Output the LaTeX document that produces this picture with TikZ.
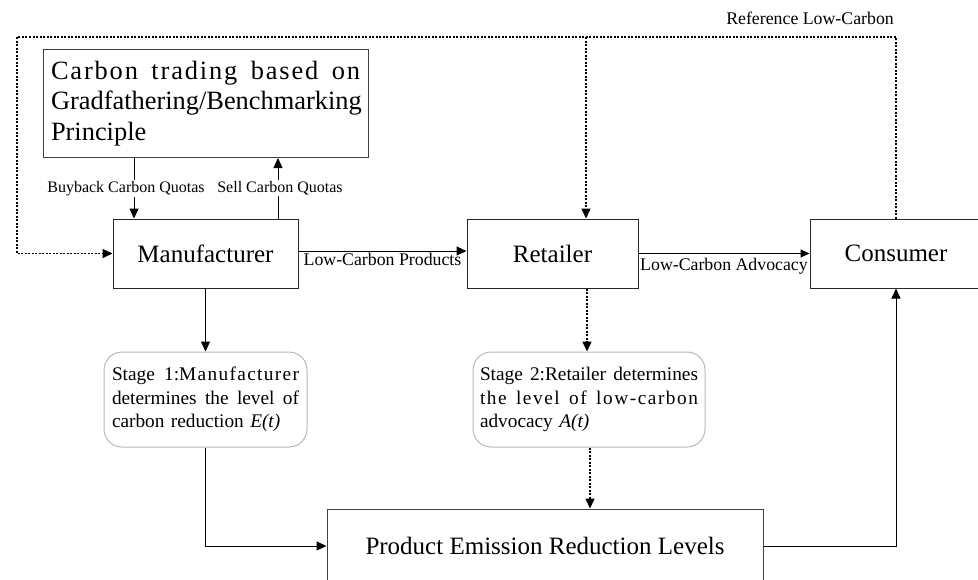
\documentclass[tikz,border=0pt]{standalone}
\usepackage{fontspec}
\setmainfont{Liberation Serif}
\newfontfamily\spaced[LetterSpace=7]{Liberation Serif}
\newfontfamily\spacedb[LetterSpace=8]{Liberation Serif}
\usetikzlibrary{arrows.meta}
\tikzset{
  bx/.style={draw=black!85, line width=1pt, minimum height=69pt, inner sep=0pt, font=\fontsize{25}{30}\selectfont},
  stg/.style={draw=black!28, line width=1pt, rounded corners=18pt, minimum height=95pt, inner sep=0pt, align=left, font=\fontsize{19.3}{23.5}\selectfont},
  tip/.style={-{Triangle[length=10pt,width=9pt]}},
  arr/.style={line width=1pt, tip},
  dotln/.style={line width=1.5pt, dash pattern=on 2pt off 1.5pt},
  lbl/.style={font=\fontsize{17.8}{20}\selectfont, inner sep=1pt},
  slbl/.style={font=\fontsize{16}{18}\selectfont, inner sep=1pt, fill=white},
}
\begin{document}
\begin{tikzpicture}[x=1pt,y=-1pt]
\useasboundingbox (0,0) rectangle (978,579);
\clip (0,0) rectangle (978,579);
% nodes
\node[bx, draw=black!75, minimum width=325pt, minimum height=108pt, text width=309pt, align=left, font=\fontsize{26.4}{30.5}\selectfont] (cap) at (205.5,103.5)
  {\makebox[309pt]{\spaced Carbon\hfill trading\hfill based\hfill on}\\Gradfathering/Benchmarking\\Principle};
\node[bx, minimum width=185pt] (man) at (205.5,253.5) {Manufacturer};
\node[bx, minimum width=171pt] (ret) at (552.5,253.5) {Retailer};
\node[bx, minimum width=172pt] (cons) at (896,253.5) {Consumer};
\node[stg, minimum width=203pt, text width=187pt] (s1) at (205.5,399.5)
  {\makebox[187pt]{Stage\hfill 1:{\spaced Manufacturer}}\\\makebox[187pt]{determines\hfill the\hfill level\hfill of}\\carbon reduction \textit{E(t)}};
\node[stg, minimum width=232pt, text width=218pt] (s2) at (589,399.5)
  {\makebox[218pt]{Stage\hfill 2:Retailer\hfill determines}\\\makebox[218pt]{\spacedb the\hfill level\hfill of\hfill low-carbon}\\advocacy \textit{A(t)}};
\node[bx, draw=black!75, minimum width=436pt, minimum height=74pt] (prod) at (545,546) {Product Emission Reduction Levels};
\node[lbl, anchor=base east] (reflbl) at (895,24) {Reference Low-Carbon};
% coordinates
\coordinate (tl) at (17,37);
\coordinate (tr) at (896,37);
\coordinate (rt) at (586,37);
\coordinate (rx) at (587,0);
\coordinate (rx2) at (590,0);
% connectors
\draw[dotln, tip] (cons.north) -- (tr) -- (tl) |- (man.west);
\draw[dotln, tip] (rt) -- (rt |- ret.north);
\draw[arr] ([xshift=-71.5pt]cap.south) -- node[slbl, xshift=-8pt] (bbl) {Buyback Carbon Quotas} ([xshift=-71.5pt]man.north);
\draw[arr] ([xshift=72.5pt]man.north) -- node[slbl, xshift=2pt] (sll) {Sell Carbon Quotas} ([xshift=72.5pt]cap.south);
\draw[arr] ([yshift=2.5pt]man.east) -- node[lbl, below=1pt] (lcp) {Low-Carbon Products} ([yshift=2.5pt]ret.west);
\draw[line width=1pt, -{Triangle[length=9pt,width=8pt]}] (ret.east) -- node[lbl, below=3pt] (lca) {Low-Carbon Advocacy} (cons.west);
\draw[arr] (man.south) -- (s1.north);
\draw[dotln, tip] (ret.south -| rx) -- (s2.north -| rx);
\draw[dotln, tip] (s2.south -| rx2) -- (prod.north -| rx2);
\draw[arr] (s1.south) |- (prod.west);
\draw[arr] (prod.east) -| (cons.south);
\end{tikzpicture}
\end{document}
